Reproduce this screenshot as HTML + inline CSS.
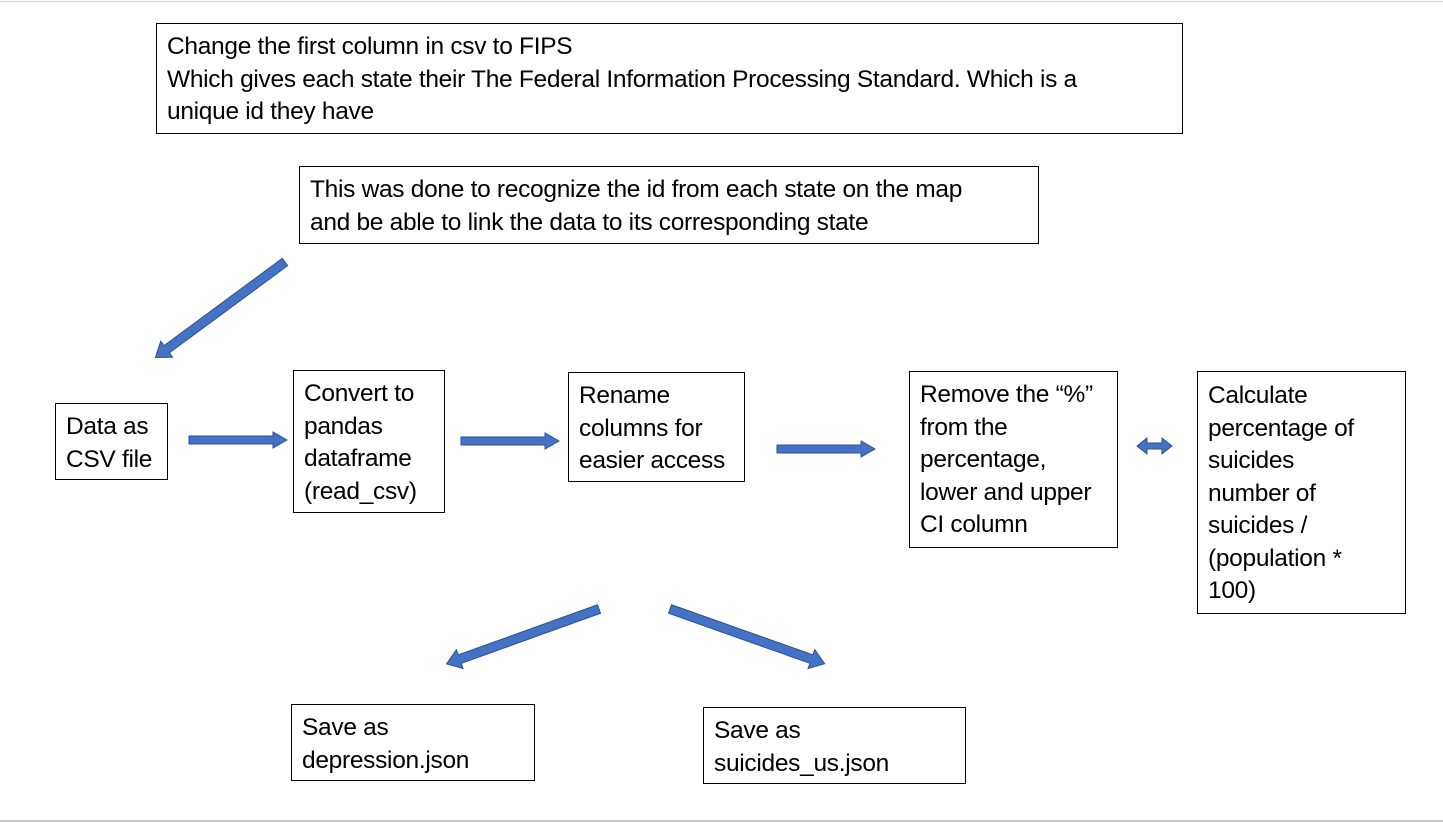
<!DOCTYPE html>
<html><head><meta charset="utf-8"><style>
html,body{margin:0;padding:0;background:#fff;}
body{width:1443px;height:823px;position:relative;overflow:hidden;font-family:"Liberation Sans",Arial,sans-serif;}
.b{position:absolute;border:1px solid #000;background:#fff;box-sizing:border-box;padding:8px 0 0 10px;font-size:24.5px;line-height:32.5px;color:#000;white-space:nowrap;letter-spacing:-0.3px;}
.t{position:absolute;left:0;top:0;}
</style></head><body>
<div style="position:absolute;left:0;top:1px;width:1443px;height:1px;background:#d0d0d0"></div>
<div style="position:absolute;left:0;top:820px;width:1443px;height:2px;background:#c8c8c8"></div>
<div class="b" style="left:156px;top:23px;width:1027px;height:111px;padding-top:7px">Change the first column in csv to FIPS<br>Which gives each state their The Federal Information Processing Standard. Which is a<br>unique id they have</div>
<div class="b" style="left:299px;top:166px;width:740px;height:78px;padding-top:7px">This was done to recognize the id from each state on the map<br>and be able to link the data to its corresponding state</div>
<div class="b" style="left:55px;top:403px;width:113px;height:77px;padding-top:7px">Data as<br>CSV file</div>
<div class="b" style="left:293px;top:370px;width:152px;height:143px;padding-top:7px">Convert to<br>pandas<br>dataframe<br>(read_csv)</div>
<div class="b" style="left:568px;top:372px;width:177px;height:110px;padding-top:7px">Rename<br>columns for<br>easier access</div>
<div class="b" style="left:909px;top:371px;width:209px;height:177px;padding-top:7px">Remove the “%”<br>from the<br>percentage,<br>lower and upper<br>CI column</div>
<div class="b" style="left:1197px;top:371px;width:209px;height:243px;padding-top:8px">Calculate<br>percentage of<br>suicides<br>number of<br>suicides /<br>(population *<br>100)</div>
<div class="b" style="left:291px;top:704px;width:244px;height:77px;padding-top:7px">Save as<br>depression.json</div>
<div class="b" style="left:703px;top:707px;width:263px;height:77px;padding-top:7px">Save as<br>suicides_us.json</div>
<svg class="t" width="1443" height="823" viewBox="0 0 1443 823">
<g fill="#4472C4" stroke="#2F528F" stroke-width="1">
<g transform="translate(285,262) rotate(143.6)"><polygon points="0,-4.5 147,-4.5 147,-10 161,0 147,10 147,4.5 0,4.5"/></g>
<polygon points="189,436 273,436 273,432 287,440 273,448 273,444 189,444"/>
<polygon points="461,437 545,437 545,433 559,441 545,449 545,445 461,445"/>
<polygon points="777,445 861,445 861,441 875,449 861,457 861,453 777,453"/>
<polygon points="1137,446 1147,438 1147,443 1162,443 1162,438 1172,446 1162,454 1162,449 1147,449 1147,454"/>
<g transform="translate(599,609) rotate(160.2)"><polygon points="0,-4.5 148,-4.5 148,-10 162,0 148,10 148,4.5 0,4.5"/></g>
<g transform="translate(670,609) rotate(19.5)"><polygon points="0,-4.5 150,-4.5 150,-10 164,0 150,10 150,4.5 0,4.5"/></g>
</g>
</svg>
</body></html>
